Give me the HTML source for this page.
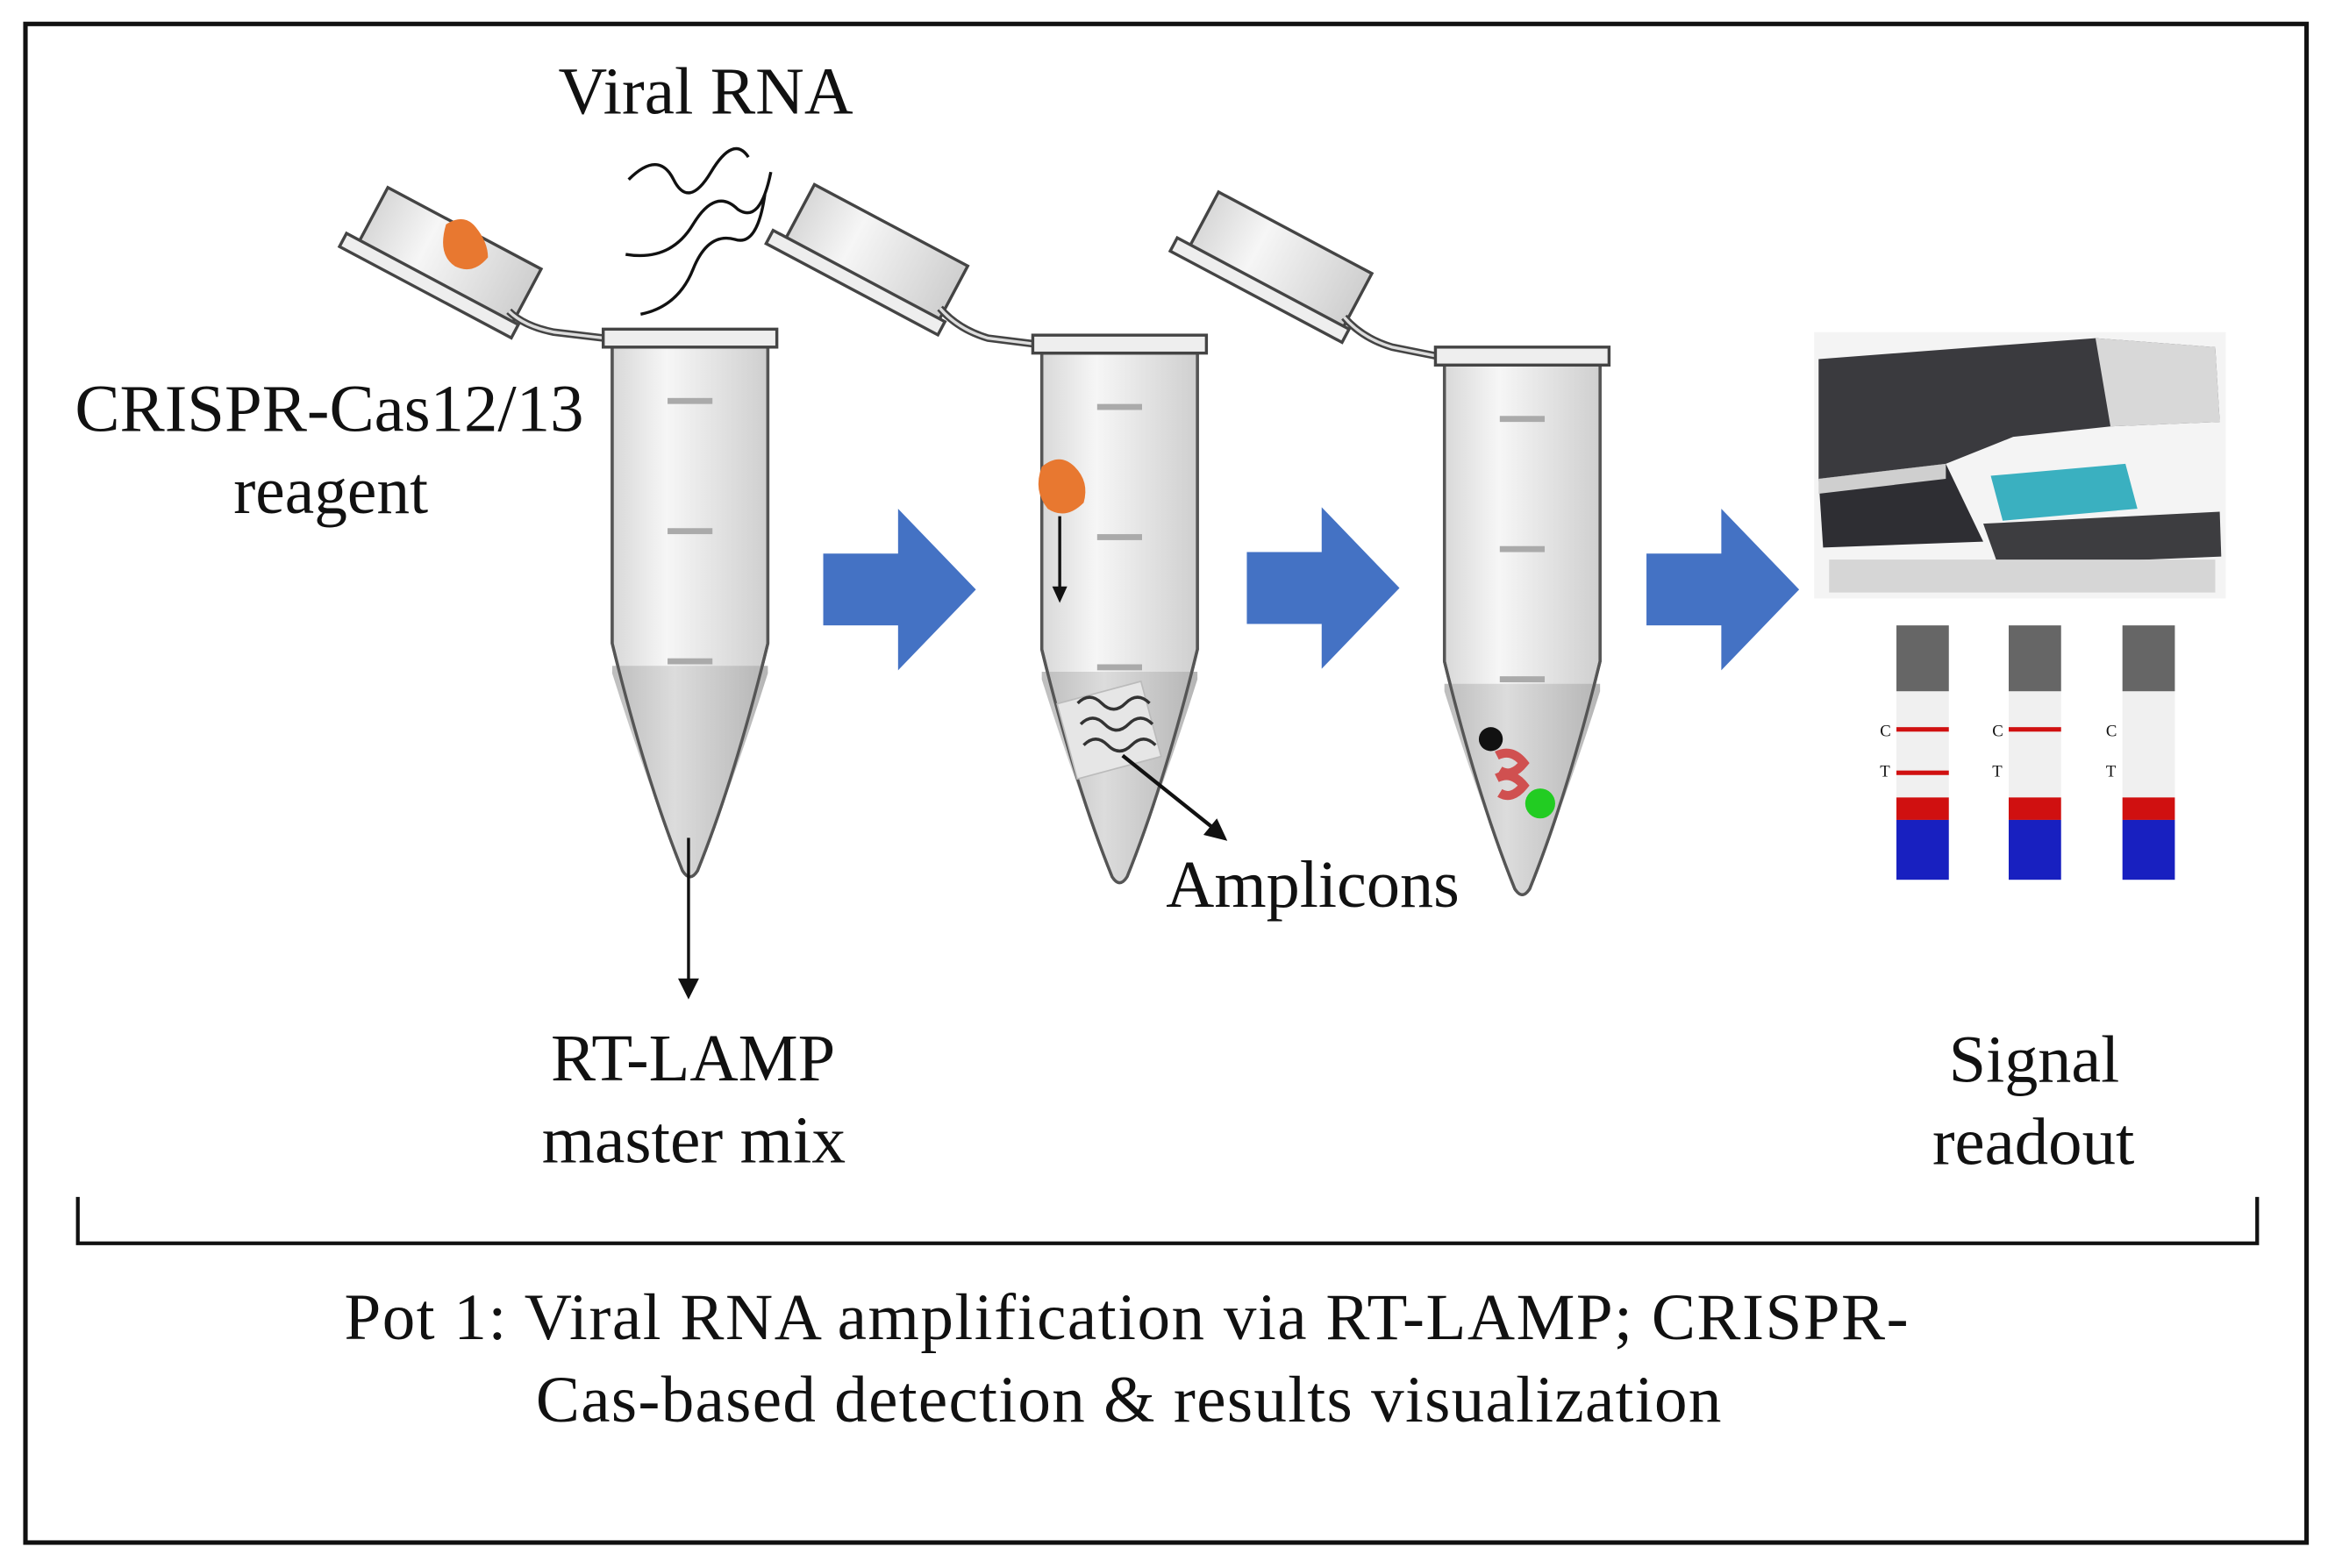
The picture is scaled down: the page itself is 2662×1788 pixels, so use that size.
<!DOCTYPE html>
<html><head><meta charset="utf-8"><style>
html,body{margin:0;padding:0;background:#fff;}
svg{display:block;}
text{font-family:"Liberation Serif",serif;fill:#111;}
</style></head><body>
<svg width="2662" height="1788" viewBox="0 0 1560 1048" preserveAspectRatio="none" xmlns="http://www.w3.org/2000/svg">
<defs>
<linearGradient id="tg" x1="0" x2="1">
<stop offset="0" stop-color="#d8d8d8"/><stop offset="0.35" stop-color="#f6f6f6"/><stop offset="1" stop-color="#cfcfcf"/>
</linearGradient>
<linearGradient id="lg" x1="0" x2="1">
<stop offset="0" stop-color="#bdbdbd"/><stop offset="0.4" stop-color="#dcdcdc"/><stop offset="1" stop-color="#b5b5b5"/>
</linearGradient>
<g id="tube">
<path d="M-52,12 L-52,210 Q-30,300 -5,362 Q0,370 5,362 Q30,300 52,210 L52,12 Z" fill="url(#tg)" stroke="#555" stroke-width="2"/>
<path d="M-52,225 L52,225 L52,230 Q30,300 5,362 Q0,370 -5,362 Q-30,300 -52,230 Z" fill="url(#lg)"/>
<path d="M-52,12 L-52,210 Q-30,300 -5,362 Q0,370 5,362 Q30,300 52,210 L52,12" fill="none" stroke="#555" stroke-width="2"/>
<rect x="-58" y="0" width="116" height="12" fill="#eee" stroke="#444" stroke-width="2"/>
<rect x="-15" y="46" width="30" height="4" fill="#aaa"/>
<rect x="-15" y="133" width="30" height="4" fill="#aaa"/>
<rect x="-15" y="220" width="30" height="4" fill="#aaa"/>
</g>
<g id="lid">
<g transform="rotate(28)">
<rect x="-58" y="-22" width="116" height="44" fill="url(#tg)" stroke="#444" stroke-width="2"/>
<rect x="-68" y="18" width="130" height="10" fill="#eee" stroke="#444" stroke-width="2"/>
</g>
</g>
<g id="barrow">
<path d="M0,-24 L50,-24 L50,-54 L102,0 L50,54 L50,24 L0,24 Z" fill="#4472c4"/>
</g>
</defs>
<rect x="0" y="0" width="1560" height="1048" fill="#fff"/>
<rect x="17" y="16" width="1524" height="1015" fill="none" stroke="#111" stroke-width="3"/>

<text x="373" y="76" font-size="45" textLength="197" lengthAdjust="spacingAndGlyphs">Viral RNA</text>
<path d="M420,120 q20,-20 30,0 q10,20 25,-5 q15,-25 25,-10" fill="none" stroke="#111" stroke-width="2"/>
<path d="M418,170 q30,5 45,-20 q15,-25 30,-10 q15,10 22,-25" fill="none" stroke="#111" stroke-width="2"/>
<path d="M428,210 q25,-5 35,-30 q10,-25 28,-20 q15,5 20,-30" fill="none" stroke="#111" stroke-width="2"/>

<use href="#lid" x="300" y="172"/>
<path d="M340,208 Q350,218 370,222 L404,226" fill="none" stroke="#444" stroke-width="5"/>
<path d="M340,208 Q350,218 370,222 L404,226" fill="none" stroke="#ddd" stroke-width="2"/>
<path d="M298,150 q12,-8 20,2 q8,10 8,20 q-10,12 -22,6 q-12,-8 -6,-28z" fill="#e87830"/>
<use href="#tube" x="461" y="220"/>
<text x="50" y="288" font-size="45" textLength="340" lengthAdjust="spacingAndGlyphs">CRISPR-Cas12/13</text>
<text x="156" y="343" font-size="45" textLength="130" lengthAdjust="spacingAndGlyphs">reagent</text>
<line x1="460" y1="560" x2="460" y2="656" stroke="#111" stroke-width="2"/>
<path d="M453,654 L460,668 L467,654 Z" fill="#111"/>
<text x="368" y="722" font-size="45" textLength="190" lengthAdjust="spacingAndGlyphs">RT-LAMP</text>
<text x="362" y="777" font-size="45" textLength="203" lengthAdjust="spacingAndGlyphs">master mix</text>

<use href="#barrow" x="550" y="394"/>
<use href="#barrow" x="833" y="393"/>
<use href="#barrow" x="1100" y="394"/>

<use href="#lid" x="585" y="170"/>
<path d="M628,206 Q640,220 660,226 L692,230" fill="none" stroke="#444" stroke-width="5"/>
<path d="M628,206 Q640,220 660,226 L692,230" fill="none" stroke="#ddd" stroke-width="2"/>
<use href="#tube" x="748" y="224"/>
<path d="M696,312 q12,-10 22,0 q10,10 6,24 q-12,12 -24,4 q-10,-12 -4,-28z" fill="#e87830"/>
<line x1="708" y1="345" x2="708" y2="394" stroke="#111" stroke-width="2"/>
<path d="M703,392 L708,403 L713,392 Z" fill="#111"/>
<rect x="712" y="462" width="58" height="52" fill="#e6e6e6" stroke="#bbb" transform="rotate(-15 741 488)"/>
<path d="M720,470 q8,-8 16,0 q8,8 16,0 q8,-8 16,0 M722,484 q8,-8 16,0 q8,8 16,0 q8,-8 16,0 M724,498 q8,-8 16,0 q8,8 16,0 q8,-8 16,0" fill="none" stroke="#333" stroke-width="2"/>
<line x1="750" y1="505" x2="810" y2="553" stroke="#111" stroke-width="2.5"/>
<path d="M804,558 L820,562 L813,547 Z" fill="#111"/>
<text x="779" y="606" font-size="45" textLength="196" lengthAdjust="spacingAndGlyphs">Amplicons</text>

<use href="#lid" x="855" y="175"/>
<path d="M898,212 Q910,226 930,232 L960,238" fill="none" stroke="#444" stroke-width="5"/>
<path d="M898,212 Q910,226 930,232 L960,238" fill="none" stroke="#ddd" stroke-width="2"/>
<use href="#tube" x="1017" y="232"/>
<circle cx="996" cy="494" r="8" fill="#111"/>
<path d="M1000,505 q10,-5 18,5 q-8,10 -16,5 M1000,520 q10,-5 18,5 q-8,10 -16,5" fill="none" stroke="#d05050" stroke-width="6"/>
<circle cx="1029" cy="537" r="10" fill="#22cc22"/>

<!-- instrument -->
<rect x="1212" y="222" width="275" height="178" fill="#f4f4f4"/>
<path d="M1215,240 L1400,226 L1480,232 L1483,282 L1410,285 L1345,292 L1300,310 L1215,320 Z" fill="#3a3a3e"/>
<path d="M1400,226 L1480,232 L1483,282 L1410,285 Z" fill="#d8d8d8"/>
<path d="M1215,320 L1300,310 L1325,362 L1218,366 Z" fill="#2e2e33"/>
<path d="M1215,320 L1300,310 L1300,320 L1215,330 Z" fill="#cfcfcf"/>
<path d="M1330,318 L1420,310 L1428,340 L1338,348 Z" fill="#3ab0c0"/>
<path d="M1325,350 L1483,342 L1484,372 L1335,378 Z" fill="#3d3d40"/>
<rect x="1222" y="374" width="258" height="22" fill="#d6d6d6"/>

<g>
<rect x="1267" y="418" width="35" height="170" fill="#f0f0f0"/>
<rect x="1267" y="418" width="35" height="44" fill="#666"/>
<rect x="1267" y="486" width="35" height="3" fill="#d01010"/>
<rect x="1267" y="515" width="35" height="3" fill="#d01010"/>
<rect x="1267" y="533" width="35" height="15" fill="#d01010"/>
<rect x="1267" y="548" width="35" height="40" fill="#1820c0"/>
<rect x="1342" y="418" width="35" height="170" fill="#f0f0f0"/>
<rect x="1342" y="418" width="35" height="44" fill="#666"/>
<rect x="1342" y="486" width="35" height="3" fill="#d01010"/>
<rect x="1342" y="533" width="35" height="15" fill="#d01010"/>
<rect x="1342" y="548" width="35" height="40" fill="#1820c0"/>
<rect x="1418" y="418" width="35" height="170" fill="#f0f0f0"/>
<rect x="1418" y="418" width="35" height="44" fill="#666"/>
<rect x="1418" y="533" width="35" height="15" fill="#d01010"/>
<rect x="1418" y="548" width="35" height="40" fill="#1820c0"/>
<g font-size="11">
<text x="1256" y="492">C</text><text x="1256" y="519">T</text>
<text x="1331" y="492">C</text><text x="1331" y="519">T</text>
<text x="1407" y="492">C</text><text x="1407" y="519">T</text>
</g>
</g>
<text x="1302" y="723" font-size="45" textLength="114" lengthAdjust="spacingAndGlyphs">Signal</text>
<text x="1291" y="778" font-size="45" textLength="135" lengthAdjust="spacingAndGlyphs">readout</text>

<path d="M52,800 L52,831 L1508,831 L1508,800" fill="none" stroke="#111" stroke-width="2.5"/>
<text x="230" y="895" font-size="44" textLength="1045" lengthAdjust="spacing">Pot 1: Viral RNA amplification via RT-LAMP; CRISPR-</text>
<text x="358" y="950" font-size="44" textLength="792" lengthAdjust="spacing">Cas-based detection &amp; results visualization</text>
</svg>
</body></html>
